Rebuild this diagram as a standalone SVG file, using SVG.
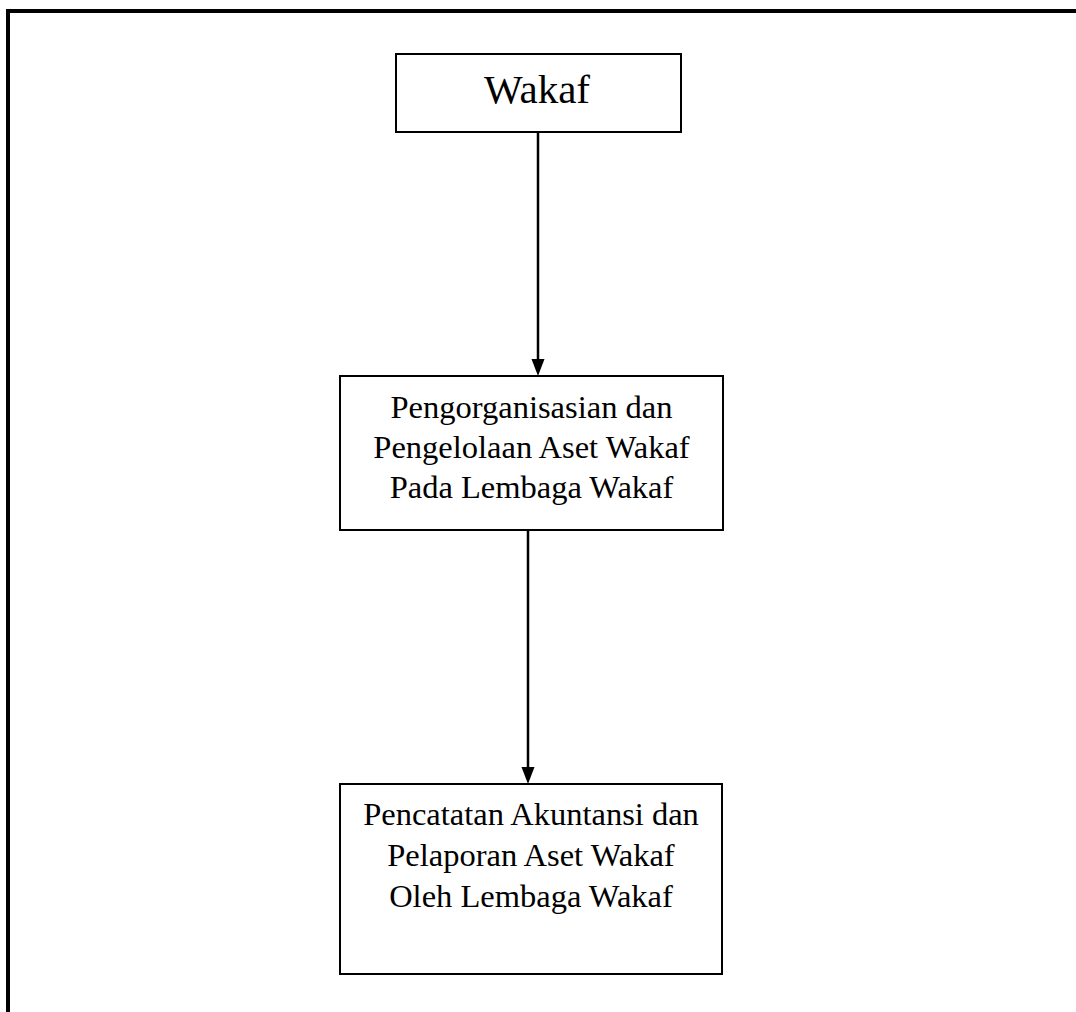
<svg xmlns="http://www.w3.org/2000/svg" width="1076" height="1012" viewBox="0 0 1076 1012">
<style>
.box{fill:#fff;stroke:#000;stroke-width:2}
.t{font-family:"Liberation Serif","Times New Roman",serif;fill:#000;text-anchor:middle}
.edge{stroke:#000;stroke-width:2.5;fill:none}
</style>
<rect width="1076" height="1012" fill="#fff"/>
<g id="frame">
<path d="M8,1012 V11 H1076" stroke="#000" stroke-width="4" fill="none"/>
</g>
<g id="connectors">
<line class="edge" x1="538" y1="132" x2="538" y2="359"/>
<path d="M531.5,359 L544.5,359 L538,376 Z" fill="#000"/>
<line class="edge" x1="528" y1="530" x2="528" y2="767"/>
<path d="M521.5,767 L534.5,767 L528,784 Z" fill="#000"/>
</g>
<g id="node-wakaf">
<rect class="box" x="396" y="54" width="285" height="78"/>
<text class="t" x="537" y="103" font-size="41">Wakaf</text>
</g>
<g id="node-pengorganisasian">
<rect class="box" x="340" y="376" width="383" height="154"/>
<text class="t" x="531.5" y="418" font-size="32.5">Pengorganisasian dan</text>
<text class="t" x="531.5" y="458" font-size="32.5">Pengelolaan Aset Wakaf</text>
<text class="t" x="531.5" y="498" font-size="32.5">Pada Lembaga Wakaf</text>
</g>
<g id="node-pencatatan">
<rect class="box" x="340" y="784" width="382" height="190"/>
<text class="t" x="531" y="825" font-size="32.5">Pencatatan Akuntansi dan</text>
<text class="t" x="531" y="866" font-size="32.5">Pelaporan Aset Wakaf</text>
<text class="t" x="531" y="907" font-size="32.5">Oleh Lembaga Wakaf</text>
</g>
</svg>
